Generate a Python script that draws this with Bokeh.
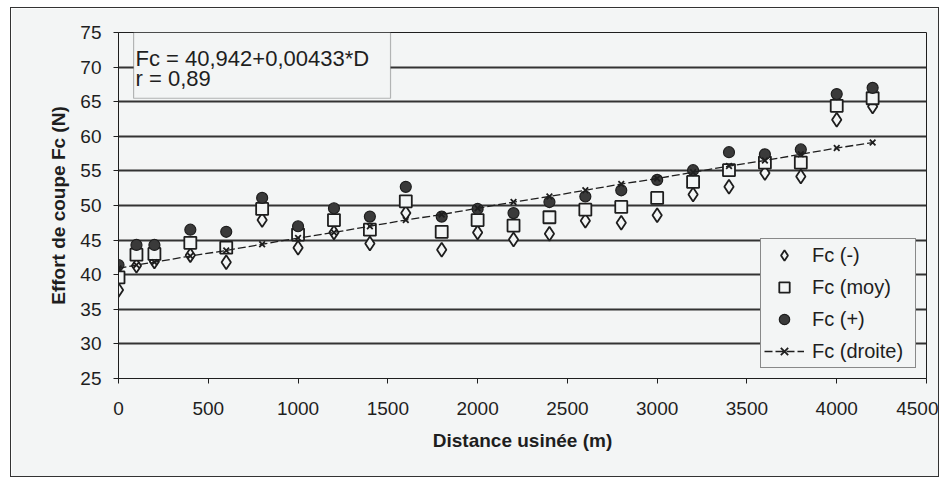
from bokeh.plotting import figure
from bokeh.models import Legend, LegendItem, BoxAnnotation, Label, FixedTicker
from bokeh.embed import file_html
from bokeh.resources import INLINE

# ---- data ----
distance = [0, 100, 200, 400, 600, 800, 1000, 1200, 1400, 1600, 1800, 2000,
            2200, 2400, 2600, 2800, 3000, 3200, 3400, 3600, 3800, 4000, 4200]
fc_minus = [37.8, 41.3, 41.9, 42.8, 41.8, 47.9, 43.9, 46.1, 44.5, 48.9, 43.6, 46.1,
            45.1, 45.9, 47.8, 47.5, 48.6, 51.6, 52.7, 54.7, 54.2, 62.4, 64.3]
fc_moy = [39.6, 42.9, 43.0, 44.6, 43.9, 49.5, 45.8, 47.9, 46.5, 50.6, 46.2, 47.9,
          47.1, 48.3, 49.4, 49.8, 51.1, 53.4, 55.1, 56.2, 56.2, 64.4, 65.5]
fc_plus = [41.4, 44.3, 44.3, 46.5, 46.2, 51.1, 47.0, 49.6, 48.4, 52.7, 48.4, 49.5,
           48.9, 50.5, 51.3, 52.2, 53.7, 55.1, 57.7, 57.4, 58.1, 66.1, 67.0]
fc_droite = [40.9, 41.4, 41.8, 42.7, 43.5, 44.4, 45.3, 46.1, 47.0, 47.9, 48.7, 49.6,
             50.5, 51.3, 52.2, 53.1, 53.9, 54.8, 55.7, 56.5, 57.4, 58.3, 59.1]
x_ticks = [0, 500, 1000, 1500, 2000, 2500, 3000, 3500, 4000, 4500]
y_ticks = [25, 30, 35, 40, 45, 50, 55, 60, 65, 70, 75]
series_labels = ["Fc (-)", "Fc (moy)", "Fc (+)", "Fc (droite)"]
equation_text = "Fc = 40,942+0,00433*D"
r_text = "r = 0,89"

BG = "#f3f5f5"
INK = "#1e1e1e"
FONT = "Liberation Sans"

p = figure(width=929, height=470, output_backend="svg", toolbar_location=None,
           x_range=(0, 4500), y_range=(25, 75), title=None,
           min_border_left=107, min_border_right=14, min_border_top=24, min_border_bottom=100)
p.styles = {"border": "1px solid #333333", "margin": "7px 0px 0px 10px"}
p.background_fill_color = BG
p.border_fill_color = BG
p.outline_line_color = INK
p.outline_line_width = 1

# axes
p.xaxis.ticker = FixedTicker(ticks=x_ticks)
p.yaxis.ticker = FixedTicker(ticks=y_ticks)
for ax in (p.xaxis[0], p.yaxis[0]):
    ax.axis_line_color = INK
    ax.axis_line_width = 1
    ax.major_tick_in = 0
    ax.major_tick_out = 5
    ax.major_tick_line_color = INK
    ax.minor_tick_line_color = None
    ax.major_label_text_font = FONT
    ax.major_label_text_font_size = "19px"
    ax.major_label_text_color = INK
    ax.axis_label_text_font = FONT
    ax.axis_label_text_font_size = "19px"
    ax.axis_label_text_font_style = "bold"
    ax.axis_label_text_color = INK
p.xaxis.axis_label = "Distance usinée (m)"
p.yaxis.axis_label = "Effort de coupe Fc (N)"
p.xaxis.major_label_standoff = 18
p.yaxis.major_label_standoff = 12
p.xaxis.axis_label_standoff = 12
p.yaxis.axis_label_standoff = 8
p.yaxis.major_label_orientation = "horizontal"

p.xgrid.grid_line_color = None
p.ygrid.grid_line_color = "#333333"
p.ygrid.grid_line_width = 1.8

# series
r_minus = p.scatter(distance, fc_minus, marker="diamond", size=14,
                    fill_color=BG, line_color=INK, line_width=1.8)
r_moy = p.scatter(distance, fc_moy, marker="square", size=12,
                  fill_color=BG, line_color=INK, line_width=1.8)
r_plus = p.scatter(distance, fc_plus, marker="circle", size=11,
                   fill_color="#3a3a3a", line_color=INK, line_width=1.2)
r_line = p.line(distance, fc_droite, line_color=INK, line_width=1.3, line_dash="8 3")
r_x = p.scatter(distance, fc_droite, marker="x", size=8, line_color=INK, line_width=1.8)

legend = Legend(items=[
    LegendItem(label=series_labels[0], renderers=[r_minus]),
    LegendItem(label=series_labels[1], renderers=[r_moy]),
    LegendItem(label=series_labels[2], renderers=[r_plus]),
    LegendItem(label=series_labels[3], renderers=[r_line, r_x]),
], location=(642, 10))
legend.label_text_font = FONT
legend.label_text_font_size = "20px"
legend.label_text_color = INK
legend.glyph_width = 40
legend.glyph_height = 26
legend.label_height = 26
legend.label_width = 100
legend.label_standoff = 8
legend.spacing = 6
legend.padding = 3
legend.margin = 0
legend.border_line_color = INK
legend.border_line_width = 1
legend.background_fill_color = BG
legend.background_fill_alpha = 1
p.add_layout(legend)

# equation box
box = BoxAnnotation(left=84, right=1515, top=75, bottom=65.5,
                    fill_color=BG, fill_alpha=1, line_color=INK, line_width=1.2)
p.add_layout(box)
p.add_layout(Label(x=0, y=71.3, x_offset=17, text=equation_text,
                   text_font=FONT, text_font_size="22px", text_color=INK,
                   text_baseline="alphabetic"))
p.add_layout(Label(x=0, y=68.3, x_offset=17, text=r_text,
                   text_font=FONT, text_font_size="22px", text_color=INK,
                   text_baseline="alphabetic"))

open("out.html", "w").write(file_html(p, INLINE))
